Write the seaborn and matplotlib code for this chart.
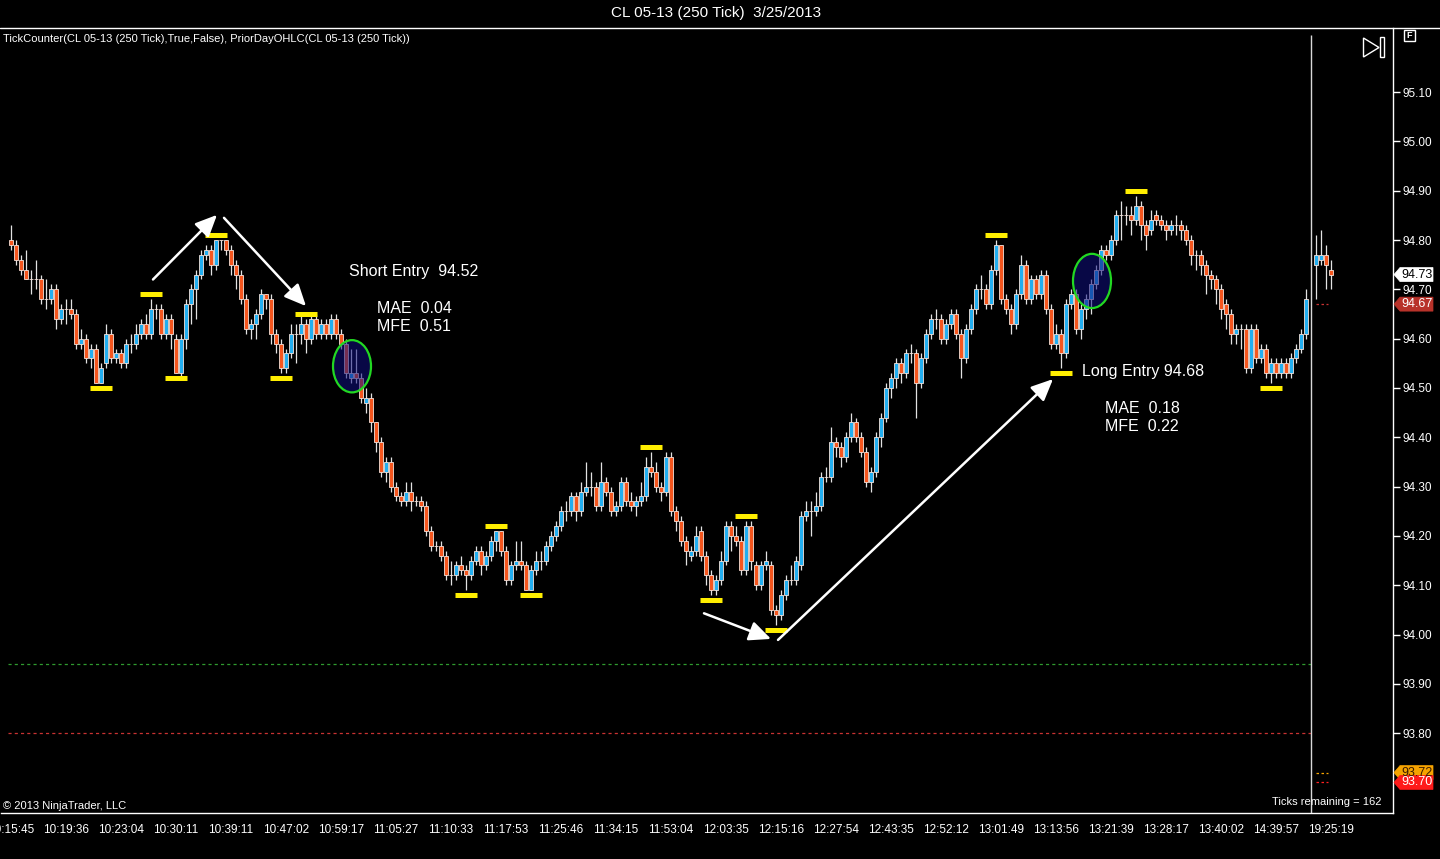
import numpy as np
import pandas as pd
import seaborn as sns
import matplotlib
matplotlib.use("Agg")
import matplotlib.pyplot as plt
from matplotlib.patches import Ellipse, Polygon, Rectangle
from matplotlib.lines import Line2D
from matplotlib.transforms import IdentityTransform

nan = np.nan
# ---------------- data (price per 250-tick bar) ----------------
opens = [
    94.80, 94.79, 94.76, 94.74, 94.72, 94.72, 94.72, 94.68, 94.68, 94.70,
    94.64, 94.66, 94.66, 94.65, 94.59, 94.60, 94.56, 94.58, 94.51, 94.55,
    94.61, 94.56, 94.57, 94.55, 94.59, 94.59, 94.61, 94.63, 94.61, 94.66,
    94.66, 94.61, 94.64, 94.60, 94.53, 94.60, 94.67, 94.70, 94.73, 94.77,
    94.78, 94.75, 94.80, 94.80, 94.78, 94.75, 94.73, 94.68, 94.62, 94.63,
    94.65, 94.69, 94.68, 94.61, 94.59, 94.54, 94.57, 94.61, 94.61, 94.63,
    94.60, 94.64, 94.61, 94.63, 94.61, 94.64, 94.61, 94.59, 94.52, 94.53,
    94.52, 94.47, 94.48, 94.43, 94.39, 94.33, 94.35, 94.30, 94.28, 94.27,
    94.29, 94.27, 94.27, 94.26, 94.21, 94.18, 94.18, 94.16, 94.12, 94.12,
    94.14, 94.13, 94.12, 94.15, 94.17, 94.14, 94.16, 94.19, 94.21, 94.17,
    94.11, 94.14, 94.15, 94.14, 94.09, 94.13, 94.15, 94.15, 94.18, 94.20,
    94.22, 94.25, 94.25, 94.28, 94.25, 94.29, 94.30, 94.30, 94.26, 94.31,
    94.29, 94.25, 94.26, 94.31, 94.27, 94.26, 94.27, 94.28, 94.34, 94.33,
    94.30, 94.29, 94.36, 94.25, 94.23, 94.19, 94.16, 94.17, 94.21, 94.16,
    94.12, 94.09, 94.11, 94.15, 94.22, 94.20, 94.19, 94.13, 94.22, 94.14,
    94.10, 94.14, 94.14, 94.05, 94.04, 94.08, 94.11, 94.11, 94.14, 94.24,
    94.25, 94.25, 94.26, 94.32, 94.32, 94.39, 94.38, 94.36, 94.40, 94.43,
    94.40, 94.37, 94.31, 94.33, 94.40, 94.44, 94.50, 94.52, 94.55, 94.53,
    94.57, 94.57, 94.51, 94.56, 94.61, 94.64, 94.64, 94.60, 94.63, 94.65,
    94.61, 94.56, 94.62, 94.66, 94.70, 94.70, 94.67, 94.74, 94.79, 94.68,
    94.66, 94.63, 94.69, 94.75, 94.68, 94.72, 94.69, 94.73, 94.66, 94.59,
    94.61, 94.57, 94.67, 94.69, 94.62, 94.66, 94.68, 94.71, 94.74, 94.78,
    94.77, 94.80, 94.85, 94.85, 94.85, 94.84, 94.87, 94.83, 94.82, 94.85,
    94.84, 94.83, 94.82, 94.83, 94.83, 94.82, 94.80, 94.77, 94.77, 94.75,
    94.73, 94.72, 94.70, 94.67, 94.65, 94.61, 94.62, 94.62, 94.54, 94.62,
    94.56, 94.58, 94.53, 94.55, 94.53, 94.55, 94.53, 94.56, 94.58, 94.61,
    nan, 94.75, 94.76, 94.77, 94.74,
]
closes = [
    94.79, 94.76, 94.74, 94.72, 94.72, 94.72, 94.68, 94.68, 94.70, 94.64,
    94.66, 94.66, 94.65, 94.59, 94.60, 94.56, 94.58, 94.51, 94.54, 94.61,
    94.56, 94.57, 94.55, 94.59, 94.59, 94.61, 94.63, 94.61, 94.66, 94.66,
    94.61, 94.64, 94.61, 94.53, 94.60, 94.67, 94.70, 94.73, 94.77, 94.78,
    94.75, 94.80, 94.80, 94.78, 94.75, 94.73, 94.68, 94.62, 94.63, 94.65,
    94.69, 94.68, 94.61, 94.59, 94.54, 94.57, 94.61, 94.61, 94.63, 94.60,
    94.64, 94.61, 94.63, 94.61, 94.64, 94.61, 94.59, 94.53, 94.53, 94.52,
    94.48, 94.48, 94.43, 94.39, 94.33, 94.35, 94.30, 94.28, 94.27, 94.29,
    94.27, 94.27, 94.26, 94.21, 94.18, 94.18, 94.16, 94.12, 94.12, 94.14,
    94.13, 94.12, 94.15, 94.17, 94.14, 94.16, 94.19, 94.21, 94.17, 94.11,
    94.14, 94.15, 94.14, 94.09, 94.13, 94.15, 94.15, 94.18, 94.20, 94.22,
    94.25, 94.25, 94.28, 94.25, 94.29, 94.30, 94.30, 94.26, 94.31, 94.29,
    94.25, 94.26, 94.31, 94.27, 94.26, 94.27, 94.28, 94.34, 94.33, 94.30,
    94.29, 94.36, 94.25, 94.23, 94.19, 94.17, 94.17, 94.20, 94.16, 94.12,
    94.09, 94.11, 94.15, 94.22, 94.20, 94.19, 94.13, 94.22, 94.15, 94.10,
    94.14, 94.15, 94.05, 94.04, 94.08, 94.11, 94.11, 94.15, 94.24, 94.25,
    94.25, 94.26, 94.32, 94.32, 94.39, 94.38, 94.36, 94.40, 94.43, 94.40,
    94.37, 94.31, 94.33, 94.40, 94.44, 94.50, 94.52, 94.55, 94.53, 94.57,
    94.57, 94.51, 94.56, 94.61, 94.64, 94.64, 94.60, 94.63, 94.65, 94.61,
    94.56, 94.62, 94.66, 94.70, 94.70, 94.67, 94.74, 94.79, 94.68, 94.66,
    94.63, 94.69, 94.75, 94.68, 94.72, 94.69, 94.73, 94.66, 94.59, 94.61,
    94.57, 94.67, 94.69, 94.62, 94.66, 94.68, 94.71, 94.74, 94.78, 94.77,
    94.80, 94.85, 94.85, 94.85, 94.84, 94.87, 94.83, 94.81, 94.84, 94.84,
    94.83, 94.82, 94.83, 94.83, 94.82, 94.80, 94.77, 94.77, 94.75, 94.73,
    94.72, 94.70, 94.66, 94.65, 94.61, 94.62, 94.62, 94.54, 94.62, 94.56,
    94.58, 94.53, 94.55, 94.53, 94.55, 94.53, 94.56, 94.58, 94.61, 94.68,
    nan, 94.77, 94.77, 94.75, 94.73,
]
highs = [
    94.83, 94.80, 94.77, 94.78, 94.74, 94.76, 94.73, 94.72, 94.71, 94.71,
    94.67, 94.68, 94.68, 94.66, 94.62, 94.61, 94.59, 94.59, 94.55, 94.63,
    94.62, 94.58, 94.58, 94.60, 94.61, 94.63, 94.64, 94.65, 94.68, 94.67,
    94.67, 94.65, 94.65, 94.61, 94.61, 94.68, 94.71, 94.74, 94.78, 94.79,
    94.79, 94.80, 94.80, 94.80, 94.79, 94.76, 94.74, 94.69, 94.64, 94.66,
    94.70, 94.69, 94.69, 94.62, 94.60, 94.58, 94.63, 94.63, 94.65, 94.64,
    94.65, 94.65, 94.64, 94.64, 94.65, 94.65, 94.62, 94.60, 94.58, 94.58,
    94.53, 94.50, 94.49, 94.43, 94.40, 94.36, 94.36, 94.31, 94.29, 94.31,
    94.31, 94.28, 94.28, 94.27, 94.22, 94.19, 94.19, 94.17, 94.15, 94.15,
    94.16, 94.14, 94.16, 94.18, 94.18, 94.17, 94.20, 94.21, 94.21, 94.18,
    94.15, 94.19, 94.19, 94.15, 94.14, 94.17, 94.17, 94.19, 94.21, 94.23,
    94.26, 94.27, 94.29, 94.29, 94.31, 94.35, 94.33, 94.31, 94.35, 94.32,
    94.30, 94.27, 94.32, 94.32, 94.29, 94.28, 94.31, 94.36, 94.37, 94.35,
    94.31, 94.37, 94.37, 94.26, 94.24, 94.20, 94.18, 94.22, 94.22, 94.17,
    94.13, 94.12, 94.17, 94.23, 94.23, 94.22, 94.20, 94.23, 94.23, 94.15,
    94.15, 94.17, 94.15, 94.06, 94.09, 94.12, 94.14, 94.16, 94.25, 94.27,
    94.27, 94.29, 94.33, 94.34, 94.42, 94.40, 94.39, 94.41, 94.45, 94.44,
    94.41, 94.38, 94.34, 94.41, 94.45, 94.51, 94.53, 94.56, 94.56, 94.58,
    94.59, 94.58, 94.57, 94.62, 94.65, 94.66, 94.65, 94.64, 94.66, 94.66,
    94.62, 94.63, 94.67, 94.71, 94.73, 94.71, 94.75, 94.80, 94.79, 94.69,
    94.67, 94.70, 94.77, 94.76, 94.73, 94.73, 94.74, 94.74, 94.67, 94.63,
    94.62, 94.68, 94.70, 94.70, 94.67, 94.69, 94.72, 94.75, 94.79, 94.79,
    94.81, 94.86, 94.88, 94.87, 94.87, 94.89, 94.88, 94.84, 94.86, 94.86,
    94.85, 94.84, 94.84, 94.85, 94.84, 94.83, 94.81, 94.78, 94.78, 94.76,
    94.74, 94.73, 94.71, 94.68, 94.66, 94.63, 94.63, 94.63, 94.63, 94.63,
    94.59, 94.59, 94.56, 94.56, 94.56, 94.56, 94.57, 94.59, 94.62, 94.70,
    nan, 94.81, 94.82, 94.79, 94.76,
]
lows = [
    94.78, 94.75, 94.73, 94.72, 94.69, 94.70, 94.67, 94.66, 94.67, 94.62,
    94.63, 94.63, 94.64, 94.58, 94.58, 94.55, 94.54, 94.51, 94.51, 94.54,
    94.55, 94.55, 94.54, 94.54, 94.57, 94.58, 94.60, 94.60, 94.60, 94.64,
    94.60, 94.60, 94.58, 94.53, 94.52, 94.58, 94.63, 94.64, 94.72, 94.76,
    94.73, 94.74, 94.78, 94.77, 94.73, 94.70, 94.67, 94.61, 94.60, 94.60,
    94.64, 94.66, 94.59, 94.57, 94.53, 94.53, 94.56, 94.55, 94.59, 94.57,
    94.59, 94.60, 94.60, 94.60, 94.60, 94.60, 94.58, 94.52, 94.51, 94.51,
    94.47, 94.45, 94.41, 94.37, 94.32, 94.31, 94.29, 94.27, 94.26, 94.26,
    94.25, 94.26, 94.25, 94.20, 94.17, 94.17, 94.15, 94.11, 94.10, 94.11,
    94.12, 94.09, 94.11, 94.14, 94.12, 94.13, 94.15, 94.17, 94.16, 94.10,
    94.10, 94.13, 94.13, 94.09, 94.09, 94.12, 94.13, 94.14, 94.17, 94.19,
    94.21, 94.23, 94.24, 94.23, 94.24, 94.28, 94.28, 94.25, 94.25, 94.28,
    94.24, 94.24, 94.25, 94.26, 94.25, 94.24, 94.26, 94.27, 94.32, 94.29,
    94.27, 94.28, 94.24, 94.21, 94.18, 94.14, 94.15, 94.16, 94.15, 94.10,
    94.08, 94.08, 94.10, 94.14, 94.17, 94.18, 94.12, 94.12, 94.13, 94.09,
    94.09, 94.13, 94.04, 94.02, 94.03, 94.07, 94.10, 94.10, 94.13, 94.23,
    94.20, 94.24, 94.25, 94.31, 94.31, 94.36, 94.34, 94.35, 94.39, 94.39,
    94.36, 94.30, 94.29, 94.32, 94.38, 94.43, 94.48, 94.50, 94.51, 94.52,
    94.55, 94.44, 94.50, 94.55, 94.60, 94.62, 94.59, 94.59, 94.62, 94.60,
    94.52, 94.55, 94.61, 94.65, 94.68, 94.66, 94.66, 94.73, 94.67, 94.65,
    94.61, 94.62, 94.68, 94.67, 94.67, 94.68, 94.68, 94.65, 94.58, 94.58,
    94.54, 94.56, 94.66, 94.61, 94.60, 94.64, 94.65, 94.70, 94.73, 94.76,
    94.76, 94.79, 94.80, 94.83, 94.81, 94.83, 94.80, 94.78, 94.81, 94.83,
    94.82, 94.80, 94.81, 94.81, 94.80, 94.79, 94.75, 94.74, 94.73, 94.69,
    94.70, 94.67, 94.64, 94.62, 94.59, 94.59, 94.58, 94.53, 94.53, 94.55,
    94.55, 94.52, 94.51, 94.52, 94.52, 94.52, 94.52, 94.55, 94.57, 94.60,
    nan, 94.68, 94.75, 94.70, 94.70,
]
time_labels = ["10:15:45", "10:19:36", "10:23:04", "10:30:11", "10:39:11", "10:47:02",
               "10:59:17", "11:05:27", "11:10:33", "11:17:53", "11:25:46", "11:34:15",
               "11:53:04", "12:03:35", "12:15:16", "12:27:54", "12:43:35", "12:52:12",
               "13:01:49", "13:13:56", "13:21:39", "13:28:17", "13:40:02", "14:39:57",
               "19:25:19"]
price_ticks = [93.80, 93.90, 94.00, 94.10, 94.20, 94.30, 94.40, 94.50, 94.60,
               94.70, 94.80, 94.90, 95.00, 95.10]
swing_lows = [18, 33, 54, 91, 104, 140, 153, 210, 252]
swing_highs = [28, 41, 59, 97, 128, 147, 197, 225]
prior_day_levels = [93.94, 93.80]
right_tags = [(94.73, "#ffffff", "#000000"), (94.67, "#b8322a", "#ffffff"),
              (93.72, "#f5a300", "#3a1a00"), (93.70, "#ff1a1a", "#ffffff")]

assert len(opens) == len(closes) == len(highs) == len(lows) == 265

# ---------------- style ----------------
W, H = 1440, 859
sns.set_theme(style="dark", rc={"axes.facecolor": "black", "figure.facecolor": "black",
                                "axes.edgecolor": "white", "grid.color": "black"})
plt.rcParams['font.family'] = ['Liberation Sans', 'DejaVu Sans']

UP = "#22aef0"
DOWN = "#f5561e"
EDGE = "#f6e2da"
WICK = "#e2e2e2"

fig = plt.figure(figsize=(W / 100, H / 100), dpi=100)
ax = fig.add_axes([1 / W, 46 / H, 1392 / W, 785 / H])
ax.set_facecolor("black")
ax.grid(False)

df = pd.DataFrame({"bar": np.arange(len(opens)), "open": opens, "close": closes,
                   "high": highs, "low": lows}).dropna()
cols = np.where(df["close"] >= df["open"], UP, DOWN)

ax.vlines(df["bar"], df["low"], df["high"], color=WICK, lw=0.9, zorder=2)
ax.bar(df["bar"], df["close"] - df["open"], bottom=df["open"], width=0.88,
       color=cols, edgecolor=EDGE, linewidth=0.6, zorder=3)

# prior day OHLC dashed lines
for lvl, c in zip(prior_day_levels, ["#2f9a2f", "#c83232"]):
    sns.lineplot(x=[-0.6, 260], y=[lvl, lvl], ax=ax, color=c, lw=0.9,
                 linestyle=(0, (2.5, 2.5)), zorder=1)

# small dashed lines at right
for lvl, c in [(94.67, "#c83232"), (93.72, "#f5a300"), (93.70, "#ff2020")]:
    ax.hlines(lvl, 261, 263.4, color=c, lw=0.9, linestyles=(0, (2, 2)), zorder=1)

# swing markers
lows_s = pd.Series(lows)
highs_s = pd.Series(highs)
ax.hlines([lows_s[i] - 0.01 for i in swing_lows], [i - 2.2 for i in swing_lows],
          [i + 2.2 for i in swing_lows], color="#ffee00", lw=3.6, zorder=4)
ax.hlines([highs_s[i] + 0.01 for i in swing_highs], [i - 2.2 for i in swing_highs],
          [i + 2.2 for i in swing_highs], color="#ffee00", lw=3.6, zorder=4)

# current bar vertical line
ax.vlines(260, 93.638, 95.216, color="#d8d8d8", lw=1.0, zorder=4)

# ellipses
for cx, cy, w, h in [(68.2, 94.544, 7.6, 0.106), (216.2, 94.717, 7.6, 0.11)]:
    ax.add_patch(Ellipse((cx, cy), w, h, facecolor=(0.06, 0.06, 0.50, 0.55),
                         edgecolor="#22d822", lw=1.6, zorder=5))

# arrows
arrows = [((28.4, 94.72), (41.2, 94.851)), ((42.6, 94.845), (59.0, 94.666)),
          ((138.6, 94.043), (152.0, 93.991)), ((153.4, 93.989), (208.4, 94.518))]
for start, end in arrows:
    ax.annotate("", xy=end, xytext=start,
                arrowprops=dict(arrowstyle="-|>,head_length=1.1,head_width=0.5",
                                color="white", lw=1.8, shrinkA=0, shrinkB=0),
                zorder=6)

# trade annotations
tk = dict(color="white", fontsize=11.5, va="center", ha="left", zorder=7)
ax.text(67.6, 94.737, "Short Entry  94.52", **tk)
ax.text(73.2, 94.662, "MAE  0.04", **tk)
ax.text(73.2, 94.624, "MFE  0.51", **tk)
ax.text(214.2, 94.534, "Long Entry 94.68", **tk)
ax.text(218.8, 94.459, "MAE  0.18", **tk)
ax.text(218.8, 94.421, "MFE  0.22", **tk)

# axes limits and ticks
ax.set_xlim(-2, 276.4)
ax.set_ylim(93.638, 95.230)
ax.set_xticks(np.arange(0, 265, 11))
ax.set_xticklabels(time_labels)
ax.set_yticks(price_ticks)
ax.set_yticklabels([f"{v:.2f}" for v in price_ticks])
ax.yaxis.tick_right()
ax.tick_params(axis="both", colors="white", labelcolor="white", labelsize=8.5,
               length=5, width=1, direction="out")
ax.tick_params(axis="y", pad=2)
ax.tick_params(axis="x", pad=3)
for s in ["left", "top"]:
    ax.spines[s].set_visible(False)
for s in ["right", "bottom"]:
    ax.spines[s].set_color("white")
    ax.spines[s].set_linewidth(1)
ax.set_xlabel("")
ax.set_ylabel("")

# figure-level text and decorations
fig.add_artist(Line2D([0, 1], [1 - 27.5 / H] * 2, transform=fig.transFigure,
                      color="white", lw=1))
fig.text(716 / W, 1 - 13 / H, "CL 05-13 (250 Tick)  3/25/2013", color="white",
         fontsize=11, ha="center", va="center")
fig.text(3 / W, 1 - 38.5 / H,
         "TickCounter(CL 05-13 (250 Tick),True,False), PriorDayOHLC(CL 05-13 (250 Tick))",
         color="white", fontsize=8, ha="left", va="center")
fig.text(3 / W, 1 - 806 / H, "© 2013 NinjaTrader, LLC", color="white", fontsize=8,
         ha="left", va="center")
fig.text(1382 / W, 1 - 802 / H, "Ticks remaining = 162", color="white", fontsize=8,
         ha="right", va="center")

# play/end icon and F box (pixel coords)
ident = IdentityTransform()
fig.add_artist(Polygon([(1363.5, H - 38), (1363.5, H - 57), (1379, H - 47.5)],
                       closed=True, fill=False, edgecolor="white", lw=1,
                       transform=ident))
fig.add_artist(Rectangle((1380, H - 57), 3.5, 20, fill=False, edgecolor="white",
                         lw=1, transform=ident))
fig.add_artist(Rectangle((1403.5, H - 41), 11, 11, fill=False, edgecolor="white",
                         lw=1, transform=ident))
fig.text(1409 / W, 1 - 35.5 / H, "F", color="white", fontsize=6.5, ha="center",
         va="center", fontweight="bold")

# price tags at right axis
fig.canvas.draw()
for price, face, tc in right_tags:
    yd = ax.transData.transform((0, price))[1]
    pts = [(1394, yd), (1400, yd + 7), (1433, yd + 7), (1433, yd - 7),
           (1400, yd - 7)]
    fig.add_artist(Polygon(pts, closed=True, facecolor=face, edgecolor=face, lw=0.5,
                           transform=ident, zorder=10))
    fig.text(1417 / W, yd / H, f"{price:.2f}", color=tc, fontsize=9, ha="center",
             va="center", zorder=11)

fig.savefig("out.png", dpi=100, facecolor="black")
